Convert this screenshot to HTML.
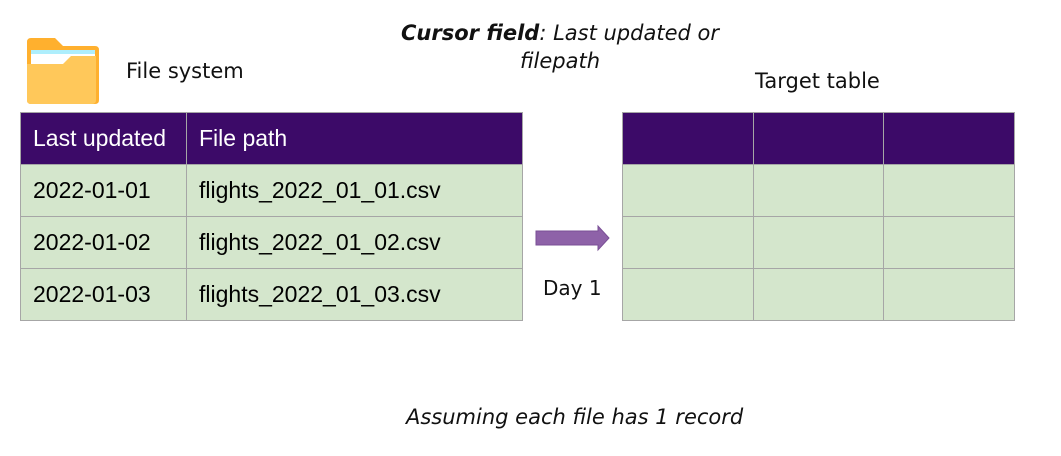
<!DOCTYPE html>
<html><head><meta charset="utf-8"><style>
body{margin:0;width:1061px;height:456px;background:#fff;position:relative;overflow:hidden;font-family:"DejaVu Sans","Liberation Sans",sans-serif;}
.t{position:absolute;white-space:nowrap;color:#111;line-height:25px;}
table{position:absolute;border-collapse:collapse;font-family:"Liberation Sans",Arial,sans-serif;font-size:23px;}
td{border:1px solid #a6a6a6;padding:0 0 0 12px;height:51px;background:#d4e6cc;color:#000;}
tr.h td{background:#3c0a68;color:#fff;}
</style></head><body>
<svg style="position:absolute;left:0;top:0" width="1061" height="456">
  <path d="M27 42 Q27 38 31 38 L55 38 L63 46 L95 46 Q99 46 99 50 L99 100 Q99 104 95 104 L31 104 Q27 104 27 100Z" fill="#ffb02e"/>
  <rect x="31" y="50" width="64" height="15" fill="#ffffff"/>
  <rect x="31" y="50" width="64" height="4" fill="#aeeefc"/>
  <path d="M27 64 L63 64 L71 56 L96 56 L96 100 Q96 104 92 104 L31 104 Q27 104 27 100Z" fill="#ffc85a"/>
  <path d="M536 231 L598 231 L598 226 L609 238 L598 250 L598 245 L536 245Z" fill="#8e62a8" stroke="#7a4f96" stroke-width="1"/>
</svg>
<div class="t" style="left:126px;top:59px;font-size:21px;">File system</div>
<div class="t" style="left:360px;top:19px;width:400px;text-align:center;font-size:21px;font-style:italic;line-height:28px;white-space:normal;"><b>Cursor field</b>: Last updated or<br>filepath</div>
<div class="t" style="left:755px;top:69px;font-size:21px;">Target table</div>
<div class="t" style="left:543px;top:276px;font-size:20px;">Day 1</div>
<div class="t" style="left:406px;top:405px;font-size:21px;font-style:italic;">Assuming each file has 1 record</div>
<table style="left:20px;top:112px;">
<tr class="h"><td style="width:153px">Last updated</td><td style="width:323px">File path</td></tr>
<tr><td>2022-01-01</td><td>flights_2022_01_01.csv</td></tr>
<tr><td>2022-01-02</td><td>flights_2022_01_02.csv</td></tr>
<tr><td>2022-01-03</td><td>flights_2022_01_03.csv</td></tr>
</table>
<table style="left:622px;top:112px;">
<tr class="h"><td style="width:118px"></td><td style="width:117px"></td><td style="width:118px"></td></tr>
<tr><td></td><td></td><td></td></tr>
<tr><td></td><td></td><td></td></tr>
<tr><td></td><td></td><td></td></tr>
</table>
</body></html>
